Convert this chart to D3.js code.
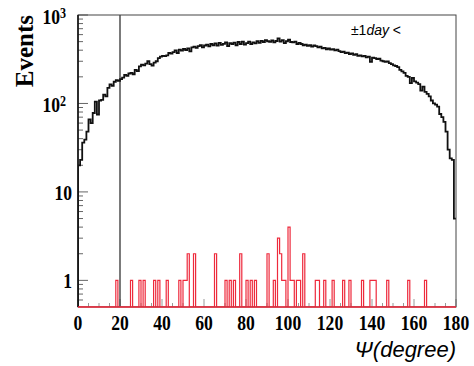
<!DOCTYPE html>
<html lang="en">
<head>
<meta charset="UTF-8">
<script src="https://d3js.org/d3.v7.min.js"></script>
<style>
  body { margin: 0; background: #fff; }
  text { fill: #000; }
</style>
</head>
<body>
<div id="chart"></div>
<script>
const width = 474;
const height = 366;
const margin = { left: 78, right: 18, top: 15, bottom: 59 };

// all events, 1 degree bins from 0 to 180
const allEvents = [
  20, 23, 36, 39, 48, 66, 60, 78, 105, 75, 108, 110, 126, 120, 150, 164, 158, 176, 183, 180,
  188, 196, 210, 205, 218, 222, 214, 240, 232, 262, 275, 270, 282, 300, 278, 268, 290, 300, 325, 338,
  345, 342, 350, 372, 365, 380, 398, 372, 405, 395, 415, 402, 420, 388, 430, 440, 425, 445, 455, 430,
  452, 462, 442, 470, 455, 478, 450, 485, 460, 472, 490, 445, 480, 470, 488, 455, 495, 470, 500, 462,
  482, 500, 470, 490, 478, 505, 485, 510, 495, 520, 505, 498, 515, 490, 508, 545, 500, 520, 480, 505,
  525, 495, 490, 500, 470, 485, 470, 455, 462, 448, 455, 440, 452, 445, 430, 438, 420, 425, 410, 418,
  405, 412, 398, 405, 390, 380, 385, 370, 375, 362, 368, 355, 360, 345, 350, 340, 345, 332, 338, 295,
  330, 325, 318, 320, 305, 300, 295, 298, 285, 278, 270, 265, 258, 240, 230, 222, 205, 200, 170, 195,
  178, 172, 165, 140, 155, 135, 128, 120, 108, 100, 97, 92, 76, 70, 62, 48, 30, 24, 23, 5
];

// events within +-1 day, same binning
const dayEvents = [
  0, 0, 0, 0, 0, 0, 0, 0, 0, 0, 0, 0, 0, 0, 0, 0, 0, 0, 1, 0,
  0, 0, 0, 0, 0, 1, 0, 0, 0, 1, 0, 1, 0, 0, 0, 0, 1, 0, 1, 0,
  0, 0, 1, 0, 0, 0, 0, 0, 1, 0, 1, 1, 2, 0, 0, 2, 0, 0, 0, 0,
  0, 0, 0, 0, 0, 2, 0, 0, 0, 0, 1, 0, 1, 0, 1, 0, 0, 2, 0, 0,
  1, 0, 1, 0, 1, 0, 0, 0, 0, 0, 2, 0, 0, 1, 0, 3, 2, 1, 1, 0,
  4, 1, 1, 0, 1, 1, 0, 2, 0, 0, 0, 0, 0, 1, 1, 0, 0, 1, 0, 0,
  0, 1, 0, 0, 0, 0, 1, 0, 0, 1, 0, 0, 0, 0, 0, 1, 0, 0, 0, 1,
  1, 1, 0, 0, 0, 0, 0, 1, 0, 0, 0, 0, 0, 0, 0, 0, 0, 1, 0, 0,
  0, 0, 0, 0, 0, 1, 0, 0, 0, 0, 0, 0, 0, 0, 0, 0, 0, 0, 0, 0
];

const xDomain = [0, 180];
const yDomain = [0.5, 1000];
const cutAngle = 20;
const xTickLabels = [0, 20, 40, 60, 80, 100, 120, 140, 160, 180];
const yTickLabels = [
  { v: 1000, base: '10', sup: '3' },
  { v: 100, base: '10', sup: '2' },
  { v: 10, base: '10', sup: '' },
  { v: 1, base: '1', sup: '' }
];

const svg = d3.select('#chart')
  .append('svg')
  .attr('width', width)
  .attr('height', height);

const x = d3.scaleLinear()
  .domain(xDomain)
  .range([margin.left, width - margin.right]);

const y = d3.scaleLog()
  .domain(yDomain)
  .range([height - margin.bottom, margin.top]);

const y0 = y(yDomain[0]);

svg.append('clipPath').attr('id', 'frame')
  .append('rect')
  .attr('x', x(0)).attr('y', y(yDomain[1]))
  .attr('width', x(180) - x(0)).attr('height', y0 - y(yDomain[1]));

// step outline like a ROOT histogram
function stepPath(values, closeEnd) {
  const p = d3.path();
  p.moveTo(x(0), y0);
  values.forEach((v, i) => {
    const yy = v > yDomain[0] ? y(v) : y0;
    p.lineTo(x(i), yy);
    p.lineTo(x(i + 1), yy);
  });
  if (closeEnd) p.lineTo(x(values.length), y0);
  return p.toString();
}

// x ticks (inside, upwards)
svg.append('g')
  .selectAll('line')
  .data(x.ticks(36))
  .enter()
  .append('line')
  .attr('x1', d => x(d)).attr('x2', d => x(d))
  .attr('y1', y0)
  .attr('y2', d => y0 - (d % 20 === 0 ? 8 : 4))
  .attr('stroke', '#999')
  .attr('stroke-width', 1);

// y ticks (inside, to the right)
svg.append('g')
  .selectAll('line')
  .data(y.ticks().filter(d => d > yDomain[0]))
  .enter()
  .append('line')
  .attr('x1', x(0))
  .attr('x2', d => x(0) + (Math.abs(Math.log10(d) % 1) < 1e-6 ? 10 : 5))
  .attr('y1', d => y(d)).attr('y2', d => y(d))
  .attr('stroke', '#666')
  .attr('stroke-width', 1);

// cut line
svg.append('line')
  .attr('x1', x(cutAngle)).attr('x2', x(cutAngle))
  .attr('y1', y(yDomain[1])).attr('y2', y0)
  .attr('stroke', '#222')
  .attr('stroke-width', 1.2);

const hists = svg.append('g').attr('clip-path', 'url(#frame)');

hists.append('path')
  .attr('d', stepPath(allEvents, false))
  .attr('fill', 'none')
  .attr('stroke', '#111')
  .attr('stroke-width', 1.8);

hists.append('path')
  .attr('d', stepPath(dayEvents, true))
  .attr('fill', 'none')
  .attr('stroke', '#ee2a3c')
  .attr('stroke-width', 1.2);

// frame
svg.append('rect')
  .attr('x', x(0)).attr('y', y(yDomain[1]))
  .attr('width', x(180) - x(0)).attr('height', y0 - y(yDomain[1]))
  .attr('fill', 'none')
  .attr('stroke', '#444')
  .attr('stroke-width', 1);
svg.append('line')
  .attr('x1', x(0)).attr('x2', x(0))
  .attr('y1', y(yDomain[1])).attr('y2', y0)
  .attr('stroke', '#111').attr('stroke-width', 1.6);
svg.append('line')
  .attr('x1', x(0)).attr('x2', x(180))
  .attr('y1', y0).attr('y2', y0)
  .attr('stroke', '#ee2a3c').attr('stroke-width', 1.4);

// x tick labels
svg.append('g')
  .selectAll('text')
  .data(xTickLabels)
  .enter()
  .append('text')
  .attr('transform', d => `translate(${x(d)},330) scale(0.8,1)`)
  .attr('text-anchor', 'middle')
  .style('font-family', '"Liberation Serif", serif')
  .style('font-weight', 'bold')
  .style('font-size', '22px')
  .text(d => d);

// y tick labels
const yl = svg.append('g')
  .selectAll('text')
  .data(yTickLabels)
  .enter()
  .append('text')
  .attr('transform', d => `translate(${d.sup ? 60 : 72},${y(d.v) + (d.sup ? 9 : 8)}) scale(0.8,1)`)
  .attr('text-anchor', 'end')
  .style('font-family', '"Liberation Serif", serif')
  .style('font-weight', 'bold')
  .style('font-size', '22px')
  .text(d => d.base);

svg.append('g')
  .selectAll('text')
  .data(yTickLabels.filter(d => d.sup))
  .enter()
  .append('text')
  .attr('transform', d => `translate(60,${y(d.v) + 3}) scale(0.8,1)`)
  .style('font-family', '"Liberation Serif", serif')
  .style('font-weight', 'bold')
  .style('font-size', '15px')
  .text(d => d.sup);

// axis titles
svg.append('text')
  .attr('transform', `translate(33,${margin.top}) rotate(-90)`)
  .attr('text-anchor', 'end')
  .style('font-family', '"Liberation Serif", serif')
  .style('font-weight', 'bold')
  .style('font-size', '25px')
  .text('Events');

svg.append('text')
  .attr('x', x(180))
  .attr('y', 357)
  .attr('text-anchor', 'end')
  .style('font-family', '"Liberation Sans", Arial, sans-serif')
  .style('font-style', 'italic')
  .style('font-size', '22px')
  .text('Ψ(degree)');

const lab = svg.append('text')
  .attr('x', 376)
  .attr('y', 35)
  .attr('text-anchor', 'middle')
  .style('font-family', '"Liberation Sans", Arial, sans-serif')
  .style('font-size', '14px');
lab.append('tspan').text('±1');
lab.append('tspan').style('font-style', 'italic').text('day');
lab.append('tspan').text(' <');
</script>
</body>
</html>
